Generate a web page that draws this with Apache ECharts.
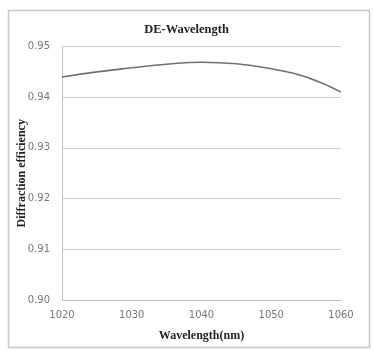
<!DOCTYPE html>
<html><head><meta charset="utf-8">
<script src="https://cdn.jsdelivr.net/npm/echarts@6/dist/echarts.min.js"></script>
<style>html,body{margin:0;padding:0;background:#fff}#c{width:373px;height:350px}</style>
</head><body><div id="c"></div>
<script>
const wavelengths = [1020, 1025, 1030, 1035, 1040, 1045, 1050, 1055, 1060];
const efficiency = [0.944, 0.945, 0.9458, 0.9465, 0.9469, 0.9466, 0.9456, 0.944, 0.941];
const yTicks = [0.90, 0.91, 0.92, 0.93, 0.94, 0.95];
const xTicks = [1020, 1030, 1040, 1050, 1060];

const chart = echarts.init(document.getElementById('c'), null, {renderer: 'canvas'});
chart.setOption({
  animation: false,
  backgroundColor: '#fff',
  graphic: [{
    type: 'rect', shape: {x: 8.5, y: 10.5, width: 361, height: 337},
    style: {fill: 'none', stroke: '#c8c8c8', lineWidth: 1.5}, silent: true
  }],
  title: {
    text: 'DE-Wavelength', left: 'center', top: 18,
    textStyle: {fontFamily: 'Liberation Serif', fontWeight: 'bold', fontSize: 12.5, color: '#222'}
  },
  grid: {left: 62, right: 32, top: 46.5, bottom: 50, containLabel: false},
  xAxis: {
    type: 'value', min: xTicks[0], max: xTicks[xTicks.length - 1], interval: 10,
    name: 'Wavelength(nm)', nameLocation: 'middle', nameGap: 30,
    nameTextStyle: {fontFamily: 'Liberation Serif', fontWeight: 'bold', fontSize: 12, color: '#222'},
    axisLine: {show: true, lineStyle: {color: '#c4c4c4', width: 1}},
    axisTick: {show: false},
    splitLine: {show: false},
    axisLabel: {color: '#777', fontFamily: 'DejaVu Sans', fontSize: 10, margin: 10,
      formatter: v => String(v)}
  },
  yAxis: {
    type: 'value', min: yTicks[0], max: yTicks[yTicks.length - 1], interval: 0.01,
    name: 'Diffraction efficiency', nameLocation: 'middle', nameGap: 34, nameRotate: 90,
    nameMoveOverlap: false,
    nameTextStyle: {fontFamily: 'Liberation Serif', fontWeight: 'bold', fontSize: 12, color: '#222'},
    axisLine: {show: true, lineStyle: {color: '#c4c4c4', width: 1}},
    axisTick: {show: false},
    splitLine: {show: true, lineStyle: {color: '#cfcfcf', width: 1}},
    axisLabel: {color: '#777', fontFamily: 'DejaVu Sans', fontSize: 10, margin: 12,
      formatter: v => v.toFixed(2)}
  },
  series: [{
    type: 'line', smooth: true, symbol: 'none',
    data: wavelengths.map((w, i) => [w, efficiency[i]]),
    lineStyle: {color: '#707070', width: 1.6}
  }]
});
</script></body></html>
